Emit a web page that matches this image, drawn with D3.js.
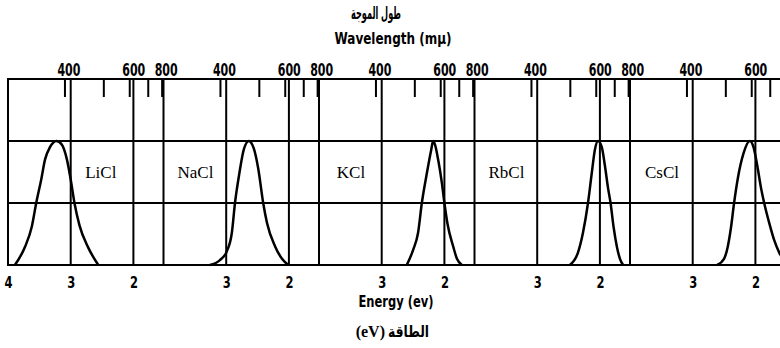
<!DOCTYPE html>
<html>
<head>
<meta charset="utf-8">
<script src="https://cdn.jsdelivr.net/npm/d3@7"></script>
<style>
  body { margin: 0; background: #fff; }
  svg { display: block; }
  .num { font-family: "DejaVu Sans", sans-serif; font-weight: bold; }
  .salt { font-family: "Liberation Serif", "DejaVu Serif", serif; }
</style>
</head>
<body>
<div id="chart"></div>
<script>
const salts = ["LiCl", "NaCl", "KCl", "RbCl", "CsCl"];

// F-bands: [energy (eV), relative absorption]
const licl = [[3.89, 0], [3.73, 0.145], [3.62, 0.31], [3.55, 0.5], [3.47, 0.69], [3.41, 0.85], [3.33, 0.95], [3.23, 1.0],
              [3.14, 0.97], [3.06, 0.85], [3.0, 0.69], [2.94, 0.5], [2.86, 0.32], [2.72, 0.14], [2.56, 0]];
const nacl = [[3.26, 0], [3.10, 0.04], [2.99, 0.11], [2.91, 0.26], [2.86, 0.5], [2.79, 0.74], [2.72, 0.93], [2.64, 1.0],
              [2.56, 0.94], [2.49, 0.78], [2.41, 0.5], [2.35, 0.34], [2.22, 0.15], [2.11, 0.05], [2.01, 0]];
const kcl = [[2.60, 0], [2.50, 0.12], [2.42, 0.26], [2.36, 0.5], [2.28, 0.74], [2.21, 0.93], [2.18, 1.0],
             [2.15, 0.97], [2.10, 0.85], [2.04, 0.66], [2.00, 0.5], [1.95, 0.33], [1.86, 0.15], [1.80, 0.05], [1.72, 0]];
const rbcl = [[2.48, 0], [2.35, 0.10], [2.27, 0.26], [2.19, 0.5], [2.13, 0.74], [2.08, 0.93], [2.03, 1.0],
              [1.97, 0.95], [1.92, 0.8], [1.87, 0.62], [1.83, 0.5], [1.78, 0.3], [1.73, 0.15], [1.68, 0.05], [1.63, 0]];
const cscl = [[2.61, 0], [2.50, 0.05], [2.44, 0.15], [2.39, 0.3], [2.34, 0.5], [2.28, 0.7], [2.19, 0.9], [2.09, 1.0],
              [2.03, 0.95], [1.97, 0.8], [1.91, 0.62], [1.86, 0.5], [1.78, 0.34], [1.70, 0.2], [1.62, 0.1], [1.53, 0.03]];
const bands = [licl, nacl, kcl, rbcl, cscl];

const labelEnergy = [2.52, 3.49, 3.49, 3.49, 3.49];
const wavelengthTicks = [400, 500, 600, 700, 800];
const wavelengthLabels = [400, 600, 800];
const energyTicksFirst = [4, 3, 2];
const energyTicks = [3, 2];
const gridEnergy = [3, 2];
const gridLevels = [0.5, 1.0];

const width = 780, height = 348;
const frameLeft = 8, frameTop = 79, frameBottom = 265;
const panelWidth = 155.5;
const hc = 1239.84; // eV * nm

const svg = d3.select("#chart")
    .append("svg")
    .attr("width", width)
    .attr("height", height);

const y = d3.scaleLinear()
    .domain([0, 1.5])
    .range([frameBottom, frameTop]);

const panel = d3.scaleBand()
    .domain(salts)
    .range([frameLeft, frameLeft + salts.length * panelWidth]);

const line = d3.line().curve(d3.curveMonotoneX);

// horizontal lines: frame and half / full height
svg.append("g")
    .selectAll("line")
    .data([0, ...gridLevels, 1.5])
    .join("line")
    .attr("x1", frameLeft)
    .attr("x2", width)
    .attr("y1", d => y(d))
    .attr("y2", d => y(d))
    .attr("stroke", "#000")
    .attr("stroke-width", 2);

salts.forEach((name, i) => {
    const x0 = panel(name);
    const x = d3.scaleLinear()
        .domain([4, 1.52])
        .range([x0, x0 + panelWidth]);

    const g = svg.append("g");

    // panel separator
    g.append("line")
        .attr("x1", x0).attr("x2", x0)
        .attr("y1", frameTop - 1).attr("y2", frameBottom + 1)
        .attr("stroke", "#000")
        .attr("stroke-width", 2);

    g.selectAll(".grid")
        .data(gridEnergy)
        .join("line")
        .attr("class", "grid")
        .attr("x1", d => x(d)).attr("x2", d => x(d))
        .attr("y1", frameTop).attr("y2", frameBottom)
        .attr("stroke", "#000")
        .attr("stroke-width", 2);

    // wavelength axis on top, ticks pointing inward
    const showLabel = (d, j) => wavelengthLabels.includes(wavelengthTicks[j]) && x(d) + 16 < width;
    const topAxis = g.append("g")
        .attr("transform", `translate(0,${frameTop})`)
        .call(d3.axisTop(x)
            .tickValues(wavelengthTicks.map(w => hc / w))
            .tickSize(-18)
            .tickPadding(3)
            .tickFormat((d, j) => showLabel(d, j) ? wavelengthTicks[j] : ""));
    topAxis.select(".domain").remove();
    topAxis.selectAll("line").attr("stroke", "#000").attr("stroke-width", 2);
    topAxis.attr("font-family", null).attr("font-size", null);
    topAxis.selectAll("text")
        .filter(function() { return this.textContent !== ""; })
        .attr("class", "num")
        .attr("dx", 4)
        .attr("font-size", 17)
        .attr("textLength", 23)
        .attr("lengthAdjust", "spacingAndGlyphs")
        .attr("fill", "#000");

    const bottomAxis = g.append("g")
        .attr("transform", `translate(0,${frameBottom})`)
        .call(d3.axisBottom(x)
            .tickValues(i === 0 ? energyTicksFirst : energyTicks)
            .tickSize(0)
            .tickPadding(12)
            .tickFormat(d3.format("d")));
    bottomAxis.select(".domain").remove();
    bottomAxis.attr("font-family", null).attr("font-size", null);
    bottomAxis.selectAll("text")
        .attr("class", "num")
        .attr("font-size", 15)
        .attr("textLength", 8)
        .attr("lengthAdjust", "spacingAndGlyphs")
        .attr("fill", "#000");

    g.append("path")
        .datum(bands[i])
        .attr("fill", "none")
        .attr("stroke", "#000")
        .attr("stroke-width", 2.5)
        .attr("stroke-linejoin", "round")
        .attr("d", line.x(d => x(d[0])).y(d => y(d[1])));

    g.append("text")
        .attr("class", "salt")
        .attr("x", x(labelEnergy[i]))
        .attr("y", y(0.75))
        .attr("dy", "0.35em")
        .attr("text-anchor", "middle")
        .attr("font-size", 17)
        .text(name);
});

// titles
svg.append("text")
    .attr("x", 376).attr("y", 19)
    .attr("text-anchor", "middle")
    .attr("font-family", "DejaVu Sans, sans-serif")
    .attr("font-weight", "bold")
    .attr("font-size", 17)
    .attr("textLength", 50)
    .attr("lengthAdjust", "spacingAndGlyphs")
    .text("طول الموجة");

svg.append("text")
    .attr("class", "num")
    .attr("x", 393).attr("y", 44)
    .attr("text-anchor", "middle")
    .attr("font-size", 16)
    .attr("textLength", 117)
    .attr("lengthAdjust", "spacingAndGlyphs")
    .text("Wavelength (mμ)");

svg.append("text")
    .attr("class", "num")
    .attr("x", 396).attr("y", 307)
    .attr("text-anchor", "middle")
    .attr("font-size", 16)
    .attr("textLength", 75)
    .attr("lengthAdjust", "spacingAndGlyphs")
    .text("Energy (ev)");

svg.append("text")
    .attr("x", 385).attr("y", 337)
    .attr("text-anchor", "end")
    .attr("font-family", "Liberation Serif, serif")
    .attr("font-weight", "bold")
    .attr("font-size", 16)
    .text("(eV)");

svg.append("text")
    .attr("x", 388).attr("y", 337)
    .attr("text-anchor", "start")
    .attr("font-family", "DejaVu Sans, sans-serif")
    .attr("font-weight", "bold")
    .attr("font-size", 16)
    .attr("textLength", 41)
    .attr("lengthAdjust", "spacingAndGlyphs")
    .text("الطاقة");
</script>
</body>
</html>
